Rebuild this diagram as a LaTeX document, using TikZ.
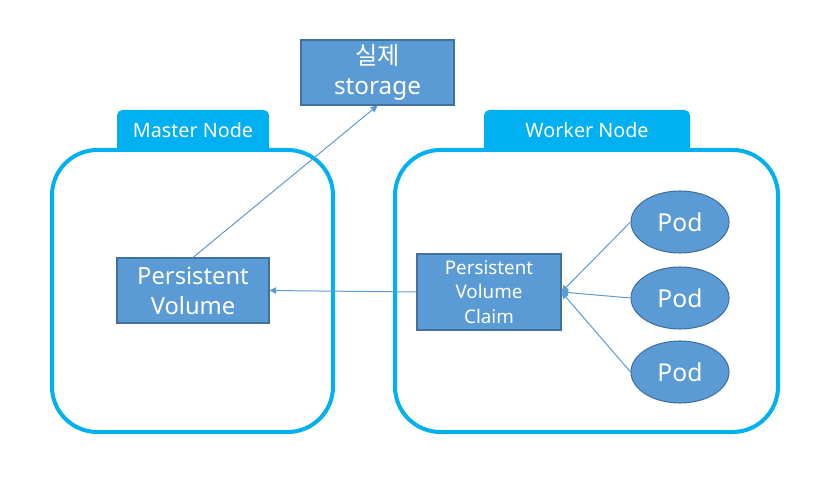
\documentclass[tikz,border=0pt]{standalone}
\usepackage{fontspec}
\setmainfont{Noto Sans}
\newfontfamily\krfont{Noto Sans CJK KR}
\usetikzlibrary{shapes.geometric,arrows.meta}
\definecolor{boxblue}{HTML}{5B9BD5}
\definecolor{boxline}{HTML}{41719C}
\definecolor{nodecyan}{HTML}{00B0F0}
\begin{document}
\begin{tikzpicture}[x=0.75pt,y=-0.75pt,
  blockbox/.style={rectangle,draw=boxline,fill=boxblue,text=white,align=center,inner sep=0pt,line width=0.8pt},
  podshape/.style={ellipse,draw=boxline,fill=boxblue,text=white,minimum width=73.5pt,minimum height=46.5pt,inner sep=0pt,line width=0.8pt,font=\fontsize{18.5}{22}\selectfont},
  tabbox/.style={rectangle,fill=nodecyan,text=white,rounded corners=4pt,inner sep=0pt,minimum height=30pt,font=\fontsize{14.8}{17}\selectfont},
  hostbox/.style={draw=nodecyan,line width=3pt,rounded corners=34pt},
  link/.style={draw=boxblue,line width=0.75pt,-{Triangle[length=5pt,width=5pt]}}]
\useasboundingbox (0,0) rectangle (818,477);
% Master side
\node (mtab) [tabbox,minimum width=114pt] at (193,130) {Master Node};
\fill[nodecyan] ([yshift=8pt]mtab.south west) rectangle (mtab.south east);
\draw[hostbox] (52,150) rectangle (333,432);
% Worker side
\node (wtab) [tabbox,minimum width=154.5pt] at (587,130) {Worker Node};
\fill[nodecyan] ([yshift=8pt]wtab.south west) rectangle (wtab.south east);
\draw[hostbox] (395,150) rectangle (778,432);
% Boxes
\node (store) [blockbox,minimum width=114.75pt,minimum height=48.75pt,font=\fontsize{18.2}{22.5}\selectfont] at (377.5,72.5) {{\krfont 실제}\\storage};
\node (pv) [blockbox,minimum width=114pt,minimum height=48.75pt,font=\fontsize{17.8}{22.5}\selectfont] at (193,290.5) {Persistent\\Volume};
\node (pvc) [blockbox,minimum width=108pt,minimum height=57pt,font=\fontsize{14.1}{18.3}\selectfont] at (489,292) {Persistent\\Volume\\Claim};
% Pods
\node (pod1) [podshape] at (680,222) {Pod};
\node (pod2) [podshape] at (680,298) {Pod};
\node (pod3) [podshape] at (680,372) {Pod};
% Arrows
\draw[link] (pv.north) -- (store.south);
\draw[link] (pvc.west) -- (pv.east);
\draw[link] (pod1.west) -- (pvc.east);
\draw[link] (pod2.west) -- (pvc.east);
\draw[link] (pod3.west) -- (pvc.east);
\end{tikzpicture}
\end{document}
